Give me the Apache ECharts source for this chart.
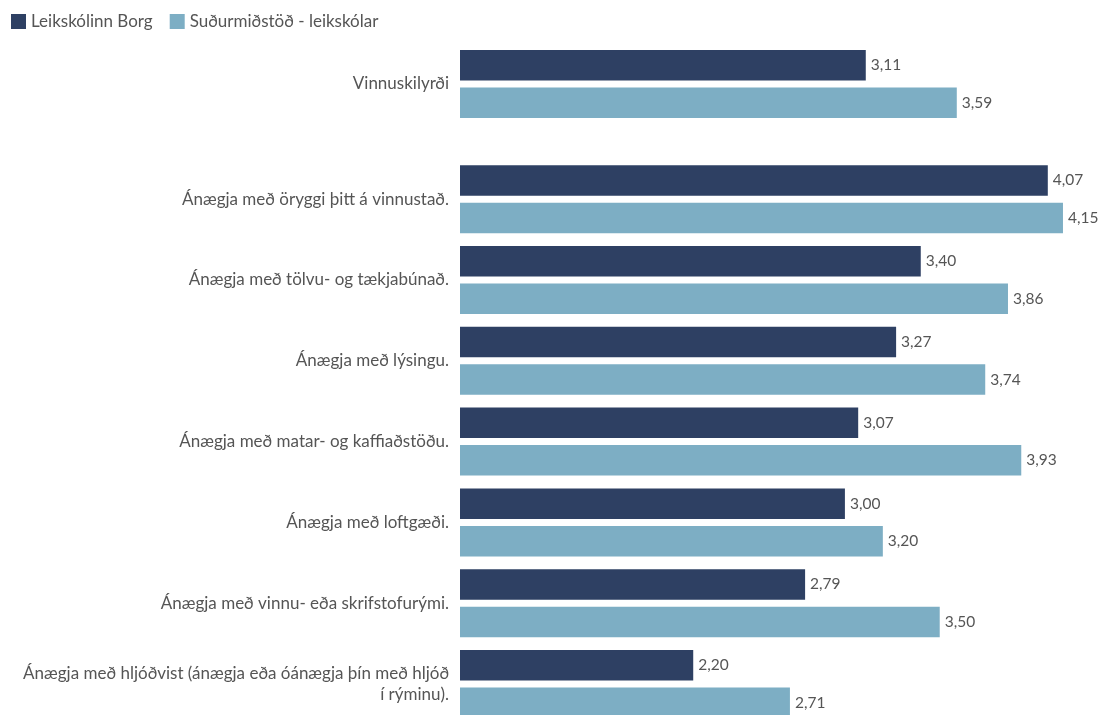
<!DOCTYPE html>
<html>
<head>
<meta charset="utf-8">
<script src="https://cdn.jsdelivr.net/npm/echarts@6/dist/echarts.min.js"></script>
<style>
html,body{margin:0;padding:0;background:#fff;}
#chart{width:1099px;height:715px;}
</style>
</head>
<body>
<div id="chart"></div>
<script>
const seriesNames = ['Leikskólinn Borg', 'Suðurmiðstöð - leikskólar'];
const topCategories = ['Vinnuskilyrði'];
const topBorg = [3.11];
const topSudur = [3.59];
const categories = [
  'Ánægja með öryggi þitt á vinnustað.',
  'Ánægja með tölvu- og tækjabúnað.',
  'Ánægja með lýsingu.',
  'Ánægja með matar- og kaffiaðstöðu.',
  'Ánægja með loftgæði.',
  'Ánægja með vinnu- eða skrifstofurými.',
  'Ánægja með hljóðvist (ánægja eða óánægja þín með hljóð\ní rýminu).'
];
const borg = [4.07, 3.40, 3.27, 3.07, 3.00, 2.79, 2.20];
const sudur = [4.15, 3.86, 3.74, 3.93, 3.20, 3.50, 2.71];

const colors = ['#2e4063', '#7daec4'];
const font = 'Lato, "Open Sans", sans-serif';
const textColor = '#555';

const fmt = v => v.toFixed(2).replace('.', ',');

const chart = echarts.init(document.getElementById('chart'));

function xAxis(gi) {
  return {
    type: 'value', gridIndex: gi, min: 0.97, max: 4.34,
    show: false
  };
}
function yAxis(gi, cats) {
  return {
    type: 'category', gridIndex: gi, data: cats, inverse: true,
    axisLine: {show: false}, axisTick: {show: false}, splitLine: {show: false},
    axisLabel: {
      color: textColor, fontFamily: font, fontSize: 17, margin: 11,
      align: 'right', lineHeight: 21
    }
  };
}
function bar(name, gi, data, ci) {
  return {
    name: name, type: 'bar', xAxisIndex: gi, yAxisIndex: gi, data: data,
    barWidth: 30.5, barGap: '23%',
    itemStyle: {color: colors[ci]},
    label: {
      show: true, position: 'right', distance: 5,
      color: textColor, fontFamily: font, fontSize: 15.5,
      formatter: p => fmt(p.value)
    },
    silent: true, animation: false
  };
}

chart.setOption({
  animation: false,
  color: colors,
  legend: {
    left: 11, top: 13, padding: 0, itemWidth: 15, itemHeight: 15, itemGap: 17,
    icon: 'rect',
    data: seriesNames,
    textStyle: {color: textColor, fontFamily: font, fontSize: 17}
  },
  grid: [
    {left: 460, right: 0, top: 43.6, height: 80.8, containLabel: false, outerBoundsMode: 'none'},
    {left: 460, right: 0, top: 158.8, height: 565.6, containLabel: false, outerBoundsMode: 'none'}
  ],
  xAxis: [xAxis(0), xAxis(1)],
  yAxis: [yAxis(0, topCategories), yAxis(1, categories)],
  series: [
    bar(seriesNames[0], 0, topBorg, 0),
    bar(seriesNames[1], 0, topSudur, 1),
    bar(seriesNames[0], 1, borg, 0),
    bar(seriesNames[1], 1, sudur, 1)
  ]
});
</script>
</body>
</html>
